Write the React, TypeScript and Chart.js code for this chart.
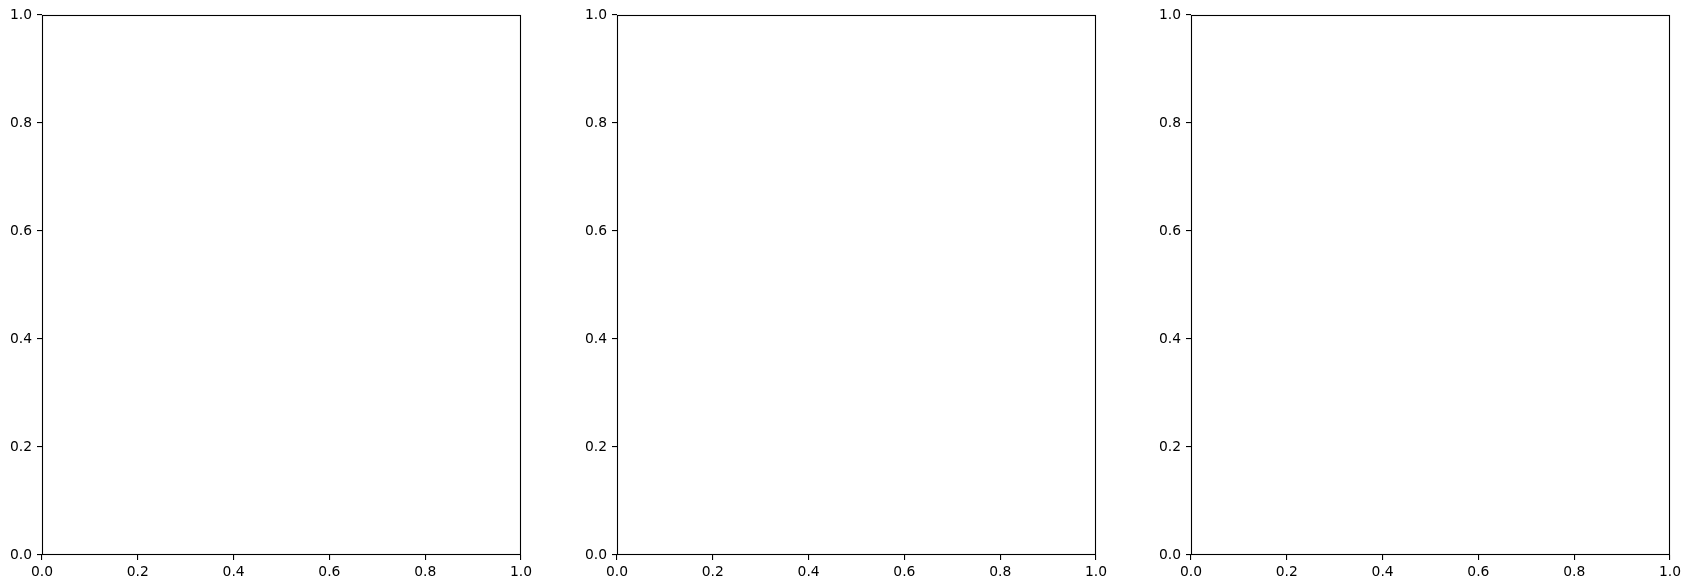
import React, { useEffect, useRef } from "react";
import { Chart, registerables } from "chart.js";

Chart.register(...registerables);

// ---- data (three empty matplotlib-style axes) ----
const panelIds = ["ax1", "ax2", "ax3"];
const xRange = [0, 1];
const yRange = [0, 1];
const xTickValues = [0, 0.2, 0.4, 0.6, 0.8, 1.0];
const yTickValues = [0, 0.2, 0.4, 0.6, 0.8, 1.0];
const seriesValues: { x: number; y: number }[] = [];

// ---- layout ----
const W = 1690;
const H = 588;
const AX_LEFTS = [42, 617, 1191];
const AX_WIDTH = 479;
const AX_TOP = 15;
const AX_BOTTOM = 555;
const Y_AXIS_W = 42;
const X_AXIS_H = 33;
const FONT = { family: "'DejaVu Sans', sans-serif", size: 13.89 };

const framePlugin = {
  id: "frame",
  afterDraw(chart: any) {
    const { ctx, chartArea } = chart;
    ctx.save();
    ctx.strokeStyle = "#000";
    ctx.lineWidth = 1.1;
    ctx.strokeRect(
      chartArea.left + 0.5,
      chartArea.top + 0.5,
      chartArea.right - chartArea.left - 1,
      chartArea.bottom - chartArea.top - 1
    );
    ctx.restore();
  },
};

function Panel({ index }: { index: number }) {
  const ref = useRef<HTMLCanvasElement | null>(null);
  useEffect(() => {
    if (!ref.current) return;
    const left = AX_LEFTS[index];
    const chart = new Chart(ref.current, {
      type: "scatter",
      data: { datasets: [{ data: seriesValues, pointRadius: 0 }] },
      options: {
        animation: false,
        responsive: false,
        devicePixelRatio: 1,
        events: [],
        layout: {
          padding: {
            left: left - Y_AXIS_W,
            right: W - (left + AX_WIDTH),
            top: AX_TOP,
            bottom: H - AX_BOTTOM - X_AXIS_H,
          },
        },
        plugins: { legend: { display: false }, tooltip: { enabled: false } },
        scales: {
          x: {
            type: "linear",
            min: xRange[0],
            max: xRange[1],
            afterBuildTicks: (s: any) => {
              s.ticks = xTickValues.map((v) => ({ value: v }));
            },
            afterFit: (s: any) => {
              s.height = X_AXIS_H;
            },
            grid: {
              drawOnChartArea: false,
              drawTicks: true,
              tickLength: 5,
              color: "#000",
              lineWidth: 1.1,
            },
            border: { display: false },
            ticks: {
              color: "#000",
              font: FONT,
              padding: 4,
              maxRotation: 0,
              callback: (v: any) => Number(v).toFixed(1),
            },
          },
          y: {
            type: "linear",
            min: yRange[0],
            max: yRange[1],
            afterBuildTicks: (s: any) => {
              s.ticks = yTickValues.map((v) => ({ value: v }));
            },
            afterFit: (s: any) => {
              s.width = Y_AXIS_W;
            },
            grid: {
              drawOnChartArea: false,
              drawTicks: true,
              tickLength: 5,
              color: "#000",
              lineWidth: 1.1,
            },
            border: { display: false },
            ticks: {
              color: "#000",
              font: FONT,
              padding: 5,
              callback: (v: any) => Number(v).toFixed(1),
            },
          },
        },
      },
      plugins: [framePlugin],
    } as any);
    return () => chart.destroy();
  }, [index]);
  return (
    <canvas
      ref={ref}
      width={W}
      height={H}
      style={{ position: "absolute", left: 0, top: 0, width: W, height: H }}
    />
  );
}

export default function App() {
  return (
    <div
      style={{
        position: "absolute",
        left: 0,
        top: 0,
        width: W,
        height: H,
        background: "#fff",
        overflow: "hidden",
      }}
    >
      {panelIds.map((id, i) => (
        <Panel key={id} index={i} />
      ))}
    </div>
  );
}
